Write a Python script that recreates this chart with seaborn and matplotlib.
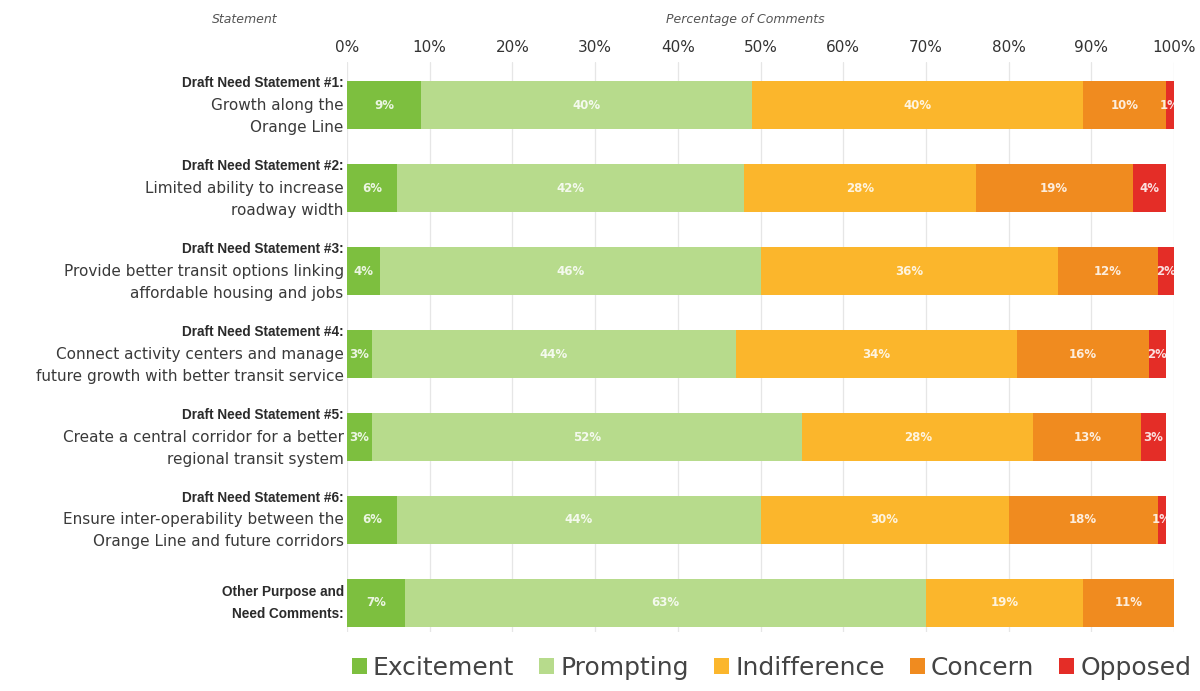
import matplotlib
matplotlib.use("Agg")
import matplotlib.pyplot as plt
import seaborn as sns
import pandas as pd
from matplotlib.patches import Patch
from matplotlib.transforms import blended_transform_factory

# ---- data -------------------------------------------------------------
row_ids = ["S1", "S2", "S3", "S4", "S5", "S6", "Other"]
headings = [
    ["Draft Need Statement #1:"],
    ["Draft Need Statement #2:"],
    ["Draft Need Statement #3:"],
    ["Draft Need Statement #4:"],
    ["Draft Need Statement #5:"],
    ["Draft Need Statement #6:"],
    ["Other Purpose and", "Need Comments:"],
]
descriptions = [
    ["Growth along the", "Orange Line"],
    ["Limited ability to increase", "roadway width"],
    ["Provide better transit options linking", "affordable housing and jobs"],
    ["Connect activity centers and manage", "future growth with better transit service"],
    ["Create a central corridor for a better", "regional transit system"],
    ["Ensure inter-operability between the", "Orange Line and future corridors"],
    [],
]
categories = ["Excitement", "Prompting", "Indifference", "Concern", "Opposed"]
excitement = [9, 6, 4, 3, 3, 6, 7]
prompting = [40, 42, 46, 44, 52, 44, 63]
indifference = [40, 28, 36, 34, 28, 30, 19]
concern = [10, 19, 12, 16, 13, 18, 11]
opposed = [1, 4, 2, 2, 3, 1, 0]
tick_values = [0, 10, 20, 30, 40, 50, 60, 70, 80, 90, 100]
tick_labels = ["0%", "10%", "20%", "30%", "40%", "50%", "60%", "70%", "80%", "90%", "100%"]

colors = ["#7dbf3f", "#b7db8c", "#fbb62c", "#f08b1f", "#e42d27"]

# ---- styling ----------------------------------------------------------
sns.set_theme(style="white")
plt.rcParams["font.family"] = ["DejaVu Sans"]

fig = plt.figure(figsize=(12, 6.91), dpi=100)
ax = fig.add_axes([0.2892, 0.0854, 0.6892, 0.8248])

series = [excitement, prompting, indifference, concern, opposed]
df = pd.DataFrame({c: s for c, s in zip(categories, series)}, index=row_ids)
cum = df.cumsum(axis=1)

# stacked bars: draw the cumulative totals from the outermost layer inwards
for cat, col in reversed(list(zip(categories, colors))):
    sns.barplot(x=cum[cat].values, y=row_ids, order=row_ids, orient="h",
                color=col, saturation=1, width=0.58, ax=ax, zorder=2,
                linewidth=0)

# value labels inside each segment
for i, rid in enumerate(row_ids):
    left = 0
    for cat in categories:
        v = df.loc[rid, cat]
        if v > 0:
            ax.text(left + v / 2, i, f"{v}%", ha="center", va="center",
                    color="white", alpha=0.85, fontsize=8.5, fontweight="bold",
                    zorder=3)
        left += v

ax.set_xlim(0, 100)
ax.set_ylim(6.35, -0.52)
ax.xaxis.tick_top()
ax.set_xticks(tick_values)
ax.set_xticklabels(tick_labels, fontsize=11, color="#333333")
ax.tick_params(axis="x", length=0, pad=5)
ax.set_yticks([])
ax.set_xlabel("")
ax.set_ylabel("")
for sp in ax.spines.values():
    sp.set_visible(False)
ax.grid(axis="x", color="#e6e6e6", linewidth=0.9, zorder=0)
ax.set_axisbelow(True)

# row labels: bold heading line(s) followed by regular description lines
trans = blended_transform_factory(ax.transAxes, ax.transData)
line_step = 0.265
for i in range(len(row_ids)):
    lines = ([(t, "bold") for t in headings[i]]
             + [(t, "normal") for t in descriptions[i]])
    n = len(lines)
    for k, (txt, wt) in enumerate(lines):
        y = i + (k - (n - 1) / 2) * line_step
        if wt == "bold":
            ax.text(-0.004, y, txt, transform=trans, ha="right", va="center",
                    fontsize=9.8, fontweight="bold", color="#2b2b2b",
                    family="Liberation Sans")
        else:
            ax.text(-0.004, y, txt, transform=trans, ha="right", va="center",
                    fontsize=11, color="#3a3a3a")

fig.text(0.204, 0.972, "Statement", ha="center", va="center",
         fontsize=9, style="italic", color="#555555")
fig.text(0.621, 0.972, "Percentage of Comments", ha="center", va="center",
         fontsize=9, style="italic", color="#555555")

handles = [Patch(facecolor=c, edgecolor="none") for c in colors]
fig.legend(handles, categories, loc="center", bbox_to_anchor=(0.643, 0.034),
           ncol=5, frameon=False, fontsize=18, handlelength=0.6,
           handleheight=0.6, handletextpad=0.25, columnspacing=1.0,
           labelcolor="#444444")

fig.savefig("out.png", dpi=100, facecolor="white")
